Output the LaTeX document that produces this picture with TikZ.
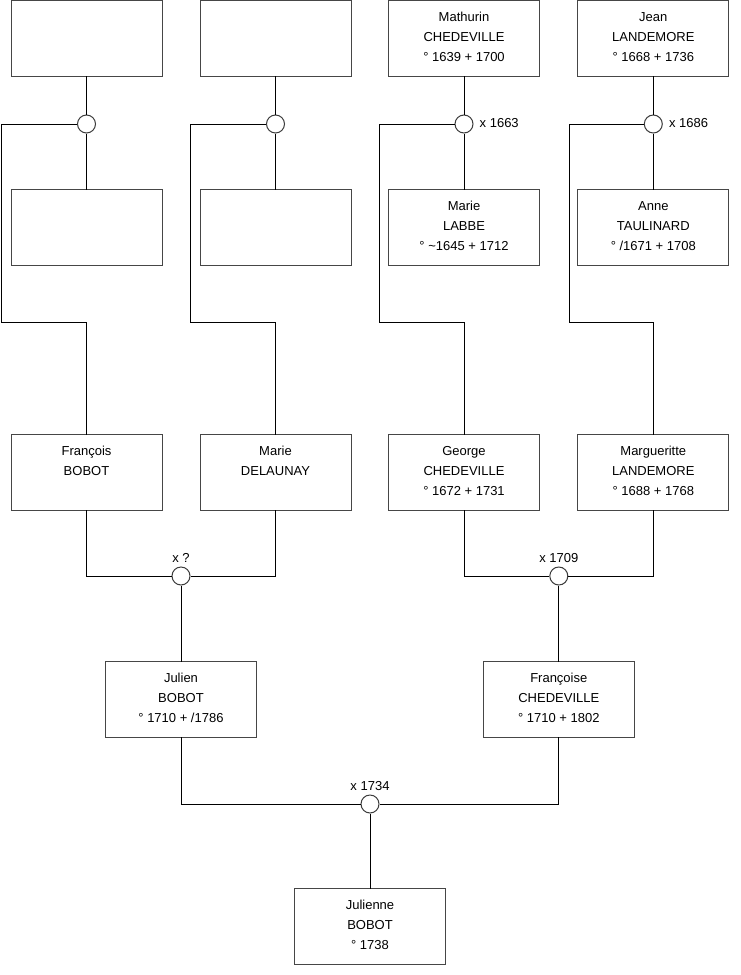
\documentclass[tikz,border=0pt]{standalone}
\usepackage{fontspec}
\setmainfont{Liberation Sans}
\definecolor{boxgray}{RGB}{70,70,70}
\definecolor{circgray}{RGB}{60,60,60}
\newcommand{\ptxt}[1]{\parbox[c][75.5pt][t]{151pt}{\centering\fontsize{13}{20}\selectfont\rule{0pt}{20.6pt}#1}}
\tikzset{
  person/.style={draw=boxgray, line width=1pt, fill=white, inner sep=0pt, outer sep=0pt, minimum width=151pt, minimum height=75.5pt},
  union/.style={circle, draw=circgray, line width=1pt, fill=white, inner sep=0pt, minimum size=18pt},
  link/.style={draw=black, line width=1pt},
  lbl/.style={inner sep=0pt, font=\fontsize{13}{15}\selectfont}
}
\begin{document}
\begin{tikzpicture}[x=1pt,y=-1pt]
\useasboundingbox[fill=white] (0,0) rectangle (740,975);
% top row
\node[person] (a1) at (86.5,38.25) {\ptxt{}};
\node[person] (a2) at (275.5,38.25) {\ptxt{}};
\node[person] (a3) at (464,38.25) {\ptxt{Mathurin\\CHEDEVILLE\\° 1639 + 1700}};
\node[person] (a4) at (653.3,38.25) {\ptxt{Jean\\LANDEMORE\\° 1668 + 1736}};
% second row
\node[person] (b1) at (86.5,227.5) {\ptxt{}};
\node[person] (b2) at (275.5,227.5) {\ptxt{}};
\node[person] (b3) at (464,227.5) {\ptxt{Marie\\LABBE\\° \textasciitilde1645 + 1712}};
\node[person] (b4) at (653.3,227.5) {\ptxt{Anne\\TAULINARD\\° /1671 + 1708}};
% unions top
\node[union] (u1) at (86.5,124) {};
\node[union] (u2) at (275.5,124) {};
\node[union] (u3) at (464,124) {};
\node[union] (u4) at (653.3,124) {};
% third row
\node[person] (f1) at (86.5,472.7) {\ptxt{François\\BOBOT}};
\node[person] (f2) at (275.5,472.7) {\ptxt{Marie\\DELAUNAY}};
\node[person] (f3) at (464,472.7) {\ptxt{George\\CHEDEVILLE\\° 1672 + 1731}};
\node[person] (f4) at (653.3,472.7) {\ptxt{Margueritte\\LANDEMORE\\° 1688 + 1768}};
\node[union] (u5) at (181,576) {};
\node[union] (u6) at (558.8,576) {};
% fourth row
\node[person] (g1) at (181,699.7) {\ptxt{Julien\\BOBOT\\° 1710 + /1786}};
\node[person] (g2) at (558.8,699.7) {\ptxt{Françoise\\CHEDEVILLE\\° 1710 + 1802}};
\node[union] (u7) at (370,804) {};
\node[person] (j) at (370,926.3) {\ptxt{Julienne\\BOBOT\\° 1738}};
% bend coordinates
\coordinate (k1) at (1.7,322.3);
\coordinate (k2) at (190.3,322.3);
\coordinate (k3) at (379.3,322.3);
\coordinate (k4) at (569,322.3);
% connectors
\foreach \i in {1,2,3,4}{
  \draw[link] (a\i.south) -- (u\i.north);
  \draw[link] (u\i.south) -- (b\i.north);
  \draw[link] (u\i.west) -| (k\i) -| (f\i.north);
}
\draw[link] (f1.south) |- (u5.west);
\draw[link] (f2.south) |- (u5.east);
\draw[link] (f3.south) |- (u6.west);
\draw[link] (f4.south) |- (u6.east);
\draw[link] (u5.south) -- (g1.north);
\draw[link] (u6.south) -- (g2.north);
\draw[link] (g1.south) |- (u7.west);
\draw[link] (g2.south) |- (u7.east);
\draw[link] (u7.south) -- (j.north);
% labels
\node[lbl, anchor=base west] (l3) at ([xshift=15.5pt,yshift=-3.9pt]u3.center) {x 1663};
\node[lbl, anchor=base west] (l4) at ([xshift=15.5pt,yshift=-3.9pt]u4.center) {x 1686};
\node[lbl, anchor=base] (l5) at ([yshift=13.5pt]u5.center) {x ?};
\node[lbl, anchor=base] (l6) at ([yshift=13.5pt]u6.center) {x 1709};
\node[lbl, anchor=base] (l7) at ([yshift=13.7pt]u7.center) {x 1734};
\end{tikzpicture}
\end{document}
